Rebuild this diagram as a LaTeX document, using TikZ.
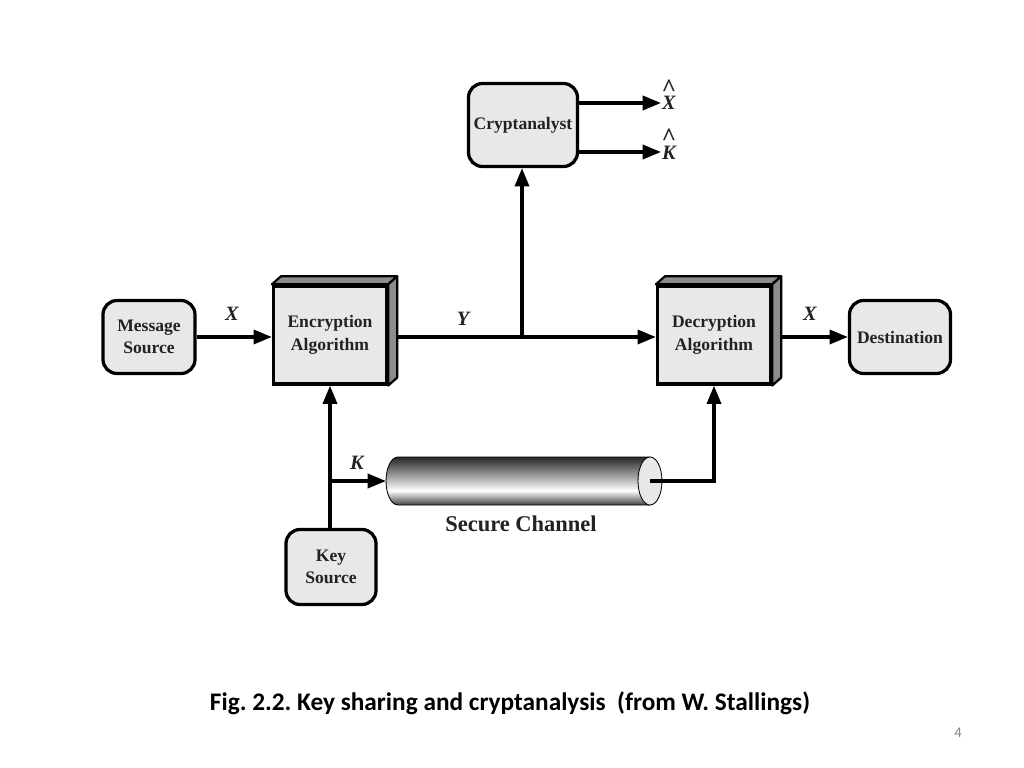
\documentclass[tikz,border=0pt]{standalone}
\usepackage{fontspec}
\setmainfont{Liberation Serif}
\newfontfamily\capfont{Carlito}
\usetikzlibrary{arrows.meta}

\definecolor{boxgray}{RGB}{232,232,232}
\definecolor{sidegray}{RGB}{140,140,140}
\definecolor{inkgray}{RGB}{34,34,34}

\pgfdeclareverticalshading{pipeshade}{100bp}{color(0bp)=(black!75); color(25bp)=(black!75); color(40bp)=(white); color(75bp)=(black!85); color(100bp)=(black!85)}

% letter with a caret above it
\newcommand{\hatted}[1]{\ooalign{#1\cr\hidewidth\raisebox{9.5pt}{\upshape\fontsize{18}{18}\selectfont\textasciicircum}\hidewidth\cr}}

\tikzset{
  box/.style={draw, line width=2.3pt, fill=boxgray, rounded corners=10pt, align=center,
    text=inkgray, font=\bfseries\fontsize{12.5}{16}\selectfont},
  block/.style={draw, line width=2.3pt, fill=boxgray, align=center, text=inkgray,
    font=\bfseries\fontsize{12.5}{16}\selectfont, minimum width=2.825cm, minimum height=2.45cm},
  face/.style={draw, line width=1.6pt, fill=sidegray, line join=round},
  arr/.style={-{Triangle[length=13pt,width=10pt]}, line width=2.3pt},
  lbl/.style={font=\bfseries\itshape\fontsize{14.5}{16}\selectfont, text=inkgray},
}

\begin{document}
\frenchspacing
\begin{tikzpicture}[x=0.025cm,y=-0.025cm]
    \useasboundingbox (0,0) rectangle (1024,768);

    % boxes
    \node[box, minimum width=2.3cm, minimum height=1.825cm] (msg) at (149,337) {Message\\Source};
    \node[block] (enc) at (330,335) {Encryption\\Algorithm};
    \node[block] (dec) at (714,335) {Decryption\\Algorithm};
    \node[box, minimum width=2.525cm, minimum height=1.825cm] (dest) at (900,337) {Destination};
    \node[box, minimum width=2.725cm, minimum height=2.075cm] (crypt) at (523,125) {Cryptanalyst};
    \node[box, minimum width=2.25cm, minimum height=1.875cm] (key) at (331,567) {Key\\Source};

    % labels
    \node[lbl] (x1) at (232,314) {X};
    \node[lbl] (y) at (463,319) {Y};
    \node[lbl] (x2) at (810,314) {X};
    \node[lbl] (k) at (357,463) {K};
    \node[lbl, anchor=base] (xh) at (669,110) {\hatted{X}};
    \node[lbl, anchor=base] (kh) at (669,159) {\hatted{K}};

    % secure channel
    \coordinate (pipeL) at (386,481);
    \coordinate (pipeR) at (650,481);
    \shade[shading=pipeshade] (650,457) -- (398,457) arc[start angle=90, end angle=270, x radius=0.3cm, y radius=0.6cm] -- (650,505) -- cycle;
    \draw[line width=0.6pt] (650,457) -- (398,457) arc[start angle=90, end angle=270, x radius=0.3cm, y radius=0.6cm] -- (650,505);
    \draw[line width=0.6pt, fill=boxgray] (pipeR) ellipse[x radius=0.3cm, y radius=0.6cm];
    \node[font=\bfseries\fontsize{16}{18}\selectfont, text=inkgray] (sc) at (521,524) {Secure Channel};

    % connectors
    \coordinate (tap) at (522,337);
    \coordinate (kb) at (330,481);
    \draw[arr] (msg.east) -- (msg.east -| enc.west);
    \draw[line width=2.3pt] (enc.east |- tap) -- (tap);
    \draw[arr] (tap) -- (dec.west |- tap);
    \draw[arr] (tap) -- (tap |- crypt.south);
    \draw[arr] (dec.east |- tap) -- (dest.west |- tap);
    \draw[arr] (crypt.east |- 0,103) -- (661,103);
    \draw[arr] (crypt.east |- 0,152) -- (661,152);
    \draw[arr] (key.north -| kb) -- (kb |- enc.south);
    \draw[arr] (kb) -- (pipeL);
    \draw[arr] (pipeR) -| (dec.south);

    % 3d faces
    \draw[face] (enc.north west) -- ++(9,-8) -- ([shift={(9,-8)}]enc.north east) -- (enc.north east) -- cycle;
    \draw[face] (enc.north east) -- ++(9,-8) -- ([shift={(9,-8)}]enc.south east) -- (enc.south east) -- cycle;
    \draw[face] (dec.north west) -- ++(9,-8) -- ([shift={(9,-8)}]dec.north east) -- (dec.north east) -- cycle;
    \draw[face] (dec.north east) -- ++(9,-8) -- ([shift={(9,-8)}]dec.south east) -- (dec.south east) -- cycle;

    % caption
    \node[font=\capfont\bfseries\fontsize{18}{21}\selectfont] (cap) at (510,703) {Fig. 2.2. Key sharing and cryptanalysis\ \ (from W. Stallings)};
    \node[font=\capfont\fontsize{10.5}{12}\selectfont, text=gray] (pg) at (958,733) {4};
\end{tikzpicture}
\end{document}
